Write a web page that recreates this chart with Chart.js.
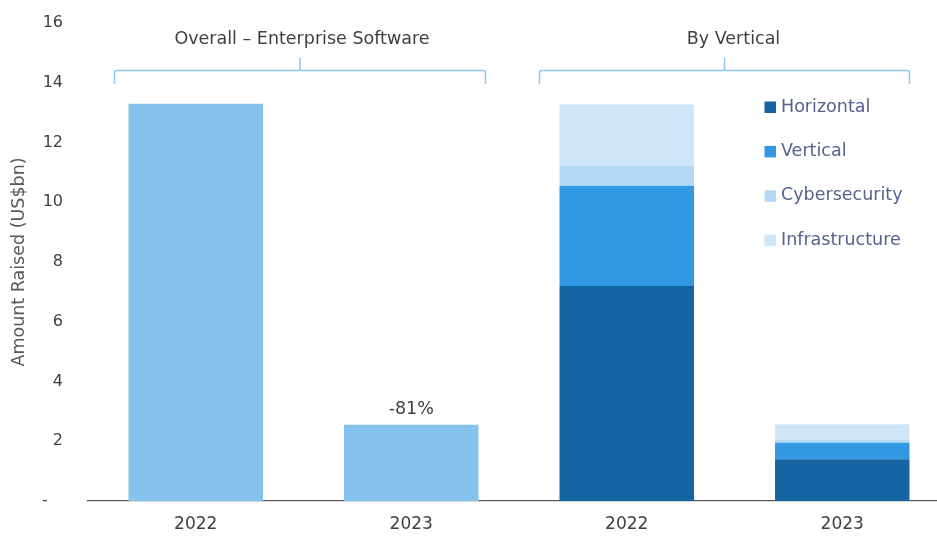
<!DOCTYPE html>
<html>
<head>
<meta charset="utf-8">
<script src="https://cdn.jsdelivr.net/npm/chart.js@4"></script>
<style>
    html, body { margin: 0; padding: 0; background: #ffffff; overflow: hidden; }
    #wrap { width: 950px; height: 536px; }
</style>
</head>
<body>
<div id="wrap"><canvas id="fundingChart"></canvas></div>
<script>
/* ------------------------------------------------------------
   DATA
------------------------------------------------------------ */
const years = ["2022", "2023", "2022", "2023"];
const groupTitles = ["Overall \u2013 Enterprise Software", "By Vertical"];

const overall        = [13.3, 2.55, null, null];
const horizontal     = [null, null, 7.2, 1.4];
const vertical       = [null, null, 3.35, 0.55];
const cybersecurity  = [null, null, 0.67, 0.1];
const infrastructure = [null, null, 2.05, 0.52];

const yTicks = [0, 2, 4, 6, 8, 10, 12, 14, 16];

const FONT = "'DejaVu Sans', sans-serif";
const TEXT = "#404040";
const BRACE = "#8cc8f0";

/* ------------------------------------------------------------
   PLUGIN: group braces + titles above each pair of bars
------------------------------------------------------------ */
const bracePlugin = {
    id: "braces",
    afterDraw(chart) {
        const ctx = chart.ctx;
        const x = chart.scales.x;
        const half = x.getPixelForValue(1) - x.getPixelForValue(0);
        const barHalf = half * 0.624 / 2;

        const groups = [
            { from: 0, to: 1, padL: 14, padR: 7 },
            { from: 2, to: 3, padL: 20, padR: 0 }
        ];

        groups.forEach((g, i) => {
            const left = x.getPixelForValue(g.from) - barHalf - g.padL;
            const right = x.getPixelForValue(g.to) + barHalf + g.padR;
            const mid = (left + right) / 2;
            const yLine = 70.5, yEnd = 84, yTop = 58, r = 2.5;

            ctx.save();
            ctx.strokeStyle = BRACE;
            ctx.lineWidth = 1.5;
            ctx.beginPath();
            ctx.moveTo(left, yEnd);
            ctx.lineTo(left, yLine + r);
            ctx.quadraticCurveTo(left, yLine, left + r, yLine);
            ctx.lineTo(mid - 1.5, yLine);
            ctx.quadraticCurveTo(mid, yLine, mid, yLine - 2);
            ctx.lineTo(mid, yTop);
            ctx.moveTo(mid, yLine - 2);
            ctx.quadraticCurveTo(mid, yLine, mid + 1.5, yLine);
            ctx.lineTo(right - r, yLine);
            ctx.quadraticCurveTo(right, yLine, right, yLine + r);
            ctx.lineTo(right, yEnd);
            ctx.stroke();

            ctx.fillStyle = TEXT;
            ctx.font = "17.5px " + FONT;
            ctx.textAlign = "center";
            ctx.textBaseline = "middle";
            ctx.fillText(groupTitles[i], mid + (i === 1 ? 9 : 2), 39);
            ctx.restore();
        });
    }
};

/* ------------------------------------------------------------
   PLUGIN: % change label above the 2023 overall bar
------------------------------------------------------------ */
const changePlugin = {
    id: "changeLabel",
    afterDatasetsDraw(chart) {
        const meta = chart.getDatasetMeta(0);
        const bar = meta.data[1];
        const pct = Math.round((overall[1] / overall[0] - 1) * 100);
        const ctx = chart.ctx;
        ctx.save();
        ctx.fillStyle = TEXT;
        ctx.font = "17.5px " + FONT;
        ctx.textAlign = "center";
        ctx.textBaseline = "bottom";
        ctx.fillText(pct + "%", bar.x, bar.y - 7);
        ctx.restore();
    }
};

/* ------------------------------------------------------------
   PLUGIN: legend inside the plot, right side
------------------------------------------------------------ */
const legendPlugin = {
    id: "insideLegend",
    afterDraw(chart) {
        const ctx = chart.ctx;
        const items = chart.data.datasets.filter(d => d.inLegend);
        ctx.save();
        ctx.font = "17.5px " + FONT;
        ctx.textBaseline = "middle";
        ctx.textAlign = "left";
        items.forEach((d, i) => {
            const y = 107 + i * 44.4;
            ctx.fillStyle = d.backgroundColor;
            ctx.fillRect(764.5, y - 5.5, 11.5, 11.5);
            ctx.fillStyle = "#56628f";
            ctx.fillText(d.label, 781, y);
        });
        ctx.restore();
    }
};

/* ------------------------------------------------------------
   CHART
------------------------------------------------------------ */
const barOpts = { barPercentage: 0.624, categoryPercentage: 1.0, borderWidth: 0 };

new Chart(document.getElementById("fundingChart"), {
    type: "bar",
    data: {
        labels: years,
        datasets: [
            { label: "Overall",        data: overall,        backgroundColor: "#85c3ee", inLegend: false, ...barOpts },
            { label: "Horizontal",     data: horizontal,     backgroundColor: "#1565a2", inLegend: true,  ...barOpts },
            { label: "Vertical",       data: vertical,       backgroundColor: "#3398e3", inLegend: true,  ...barOpts },
            { label: "Cybersecurity",  data: cybersecurity,  backgroundColor: "#b4d9f4", inLegend: true,  ...barOpts },
            { label: "Infrastructure", data: infrastructure, backgroundColor: "#cfe6f9", inLegend: true,  ...barOpts }
        ]
    },
    options: {
        responsive: true,
        maintainAspectRatio: false,
        animation: false,
        layout: { padding: { top: 23, left: 0, right: 0, bottom: 0 } },
        plugins: {
            legend: { display: false },
            tooltip: { enabled: false }
        },
        scales: {
            x: {
                stacked: true,
                grid: { display: false, drawTicks: false },
                border: { display: true, color: "#595959", width: 1.3 },
                ticks: { color: TEXT, font: { family: FONT, size: 17 }, padding: 13 },
                afterFit(scale) { scale.height = 35; scale.paddingLeft = 0; scale.paddingRight = 0; }
            },
            y: {
                stacked: true,
                min: 0,
                max: 16,
                afterBuildTicks(scale) { scale.ticks = yTicks.map(v => ({ value: v })); },
                grid: { display: false, drawTicks: false },
                border: { display: false },
                ticks: {
                    color: TEXT,
                    font: { family: FONT, size: 16 },
                    padding: 25,
                    callback: v => (v === 0 ? "-   " : v)
                },
                title: {
                    display: true,
                    text: "Amount Raised (US$bn)",
                    color: "#595959",
                    font: { family: FONT, size: 17.5 },
                    padding: { top: 9, bottom: 0 }
                },
                afterFit(scale) { scale.width = 88; scale.paddingTop = 0; scale.paddingBottom = 0; }
            }
        }
    },
    plugins: [changePlugin, bracePlugin, legendPlugin]
});
</script>
</body>
</html>
